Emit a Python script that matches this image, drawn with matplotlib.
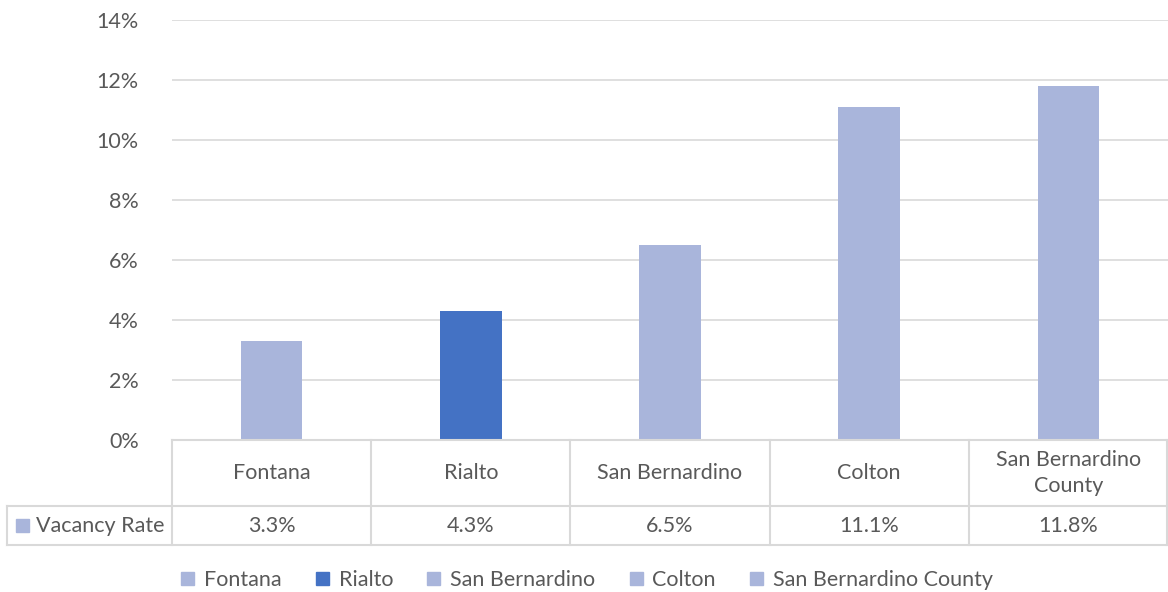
import matplotlib.pyplot as plt
from matplotlib.lines import Line2D
from matplotlib.patches import Rectangle

# Vacancy rates by area (percent)
areas = ["Fontana", "Rialto", "San Bernardino", "Colton", "San Bernardino County"]
area_labels = ["Fontana", "Rialto", "San Bernardino", "Colton", "San Bernardino\nCounty"]
vacancy = [3.3, 4.3, 6.5, 11.1, 11.8]
series_name = "Vacancy Rate"
y_ticks = [0, 2, 4, 6, 8, 10, 12, 14]

light = '#A9B5DB'
dark = '#4472C4'
colors = [light, dark, light, light, light]
grid_c = '#D9D9D9'
text_c = '#595959'
fs = 15.5

plt.rcParams['font.family'] = ['Lato', 'DejaVu Sans']

W, H = 1168, 592
fig = plt.figure(figsize=(W / 100, H / 100), dpi=100)

# plot area in pixel coords
x0, x1 = 172, 1168
y_top, y_zero = 20, 440
ax = fig.add_axes([x0 / W, 1 - y_zero / H, (x1 - x0) / W, (y_zero - y_top) / H])

n = len(areas)
xs = list(range(n))
ax.bar(xs, vacancy, width=0.31, color=colors, zorder=3)
ax.set_xlim(-0.5, n - 0.5)
ax.set_ylim(0, 14)
ax.set_yticks(y_ticks)
ax.set_yticklabels([f"{t}%" for t in y_ticks], color=text_c, fontsize=fs)
ax.tick_params(axis='y', length=0, pad=24)
ax.set_xticks([])
ax.grid(axis='y', color=grid_c, lw=1.2, zorder=0)
for s in ax.spines.values():
    s.set_visible(False)


def px_line(xa, ya, xb, yb):
    fig.add_artist(Line2D([xa / W, xb / W], [1 - ya / H, 1 - yb / H],
                          transform=fig.transFigure, color=grid_c, lw=1.5))


def px_text(x, y, s, **kw):
    fig.text(x / W, 1 - y / H, s, color=text_c, fontsize=fs,
             va='center', **kw)


# data table under the axis
col_w = (x1 - x0) / n
row1_bot, row2_bot = 506, 545
table_left = 7
px_line(x0, y_zero, x1, y_zero)
px_line(table_left, row1_bot, x1, row1_bot)
px_line(table_left, row2_bot, x1, row2_bot)
px_line(table_left, row1_bot, table_left, row2_bot)
for i in range(n + 1):
    xb = min(x0 + i * col_w, x1 - 1)
    px_line(xb, y_zero, xb, row2_bot)

for i, (lab, v) in enumerate(zip(area_labels, vacancy)):
    cx = x0 + (i + 0.5) * col_w
    px_text(cx, (y_zero + row1_bot) / 2, lab, ha='center', linespacing=1.35)
    px_text(cx, (row1_bot + row2_bot) / 2, f"{v:.1f}%", ha='center')

# series key in the table's left cell
fig.add_artist(Rectangle((16 / W, 1 - 532 / H), 13 / W, 13 / H,
                         transform=fig.transFigure, color=light))
px_text(36, (row1_bot + row2_bot) / 2, series_name, ha='left')

# legend
handles = [Rectangle((0, 0), 1, 1, color=c) for c in colors]
fig.legend(handles, areas, loc='center', bbox_to_anchor=(587 / W, 1 - 580 / H),
           ncol=n, frameon=False, fontsize=fs, labelcolor=text_c,
           handlelength=0.6, handleheight=0.6, handletextpad=0.45,
           columnspacing=1.6)

fig.savefig("out.png", dpi=100)
